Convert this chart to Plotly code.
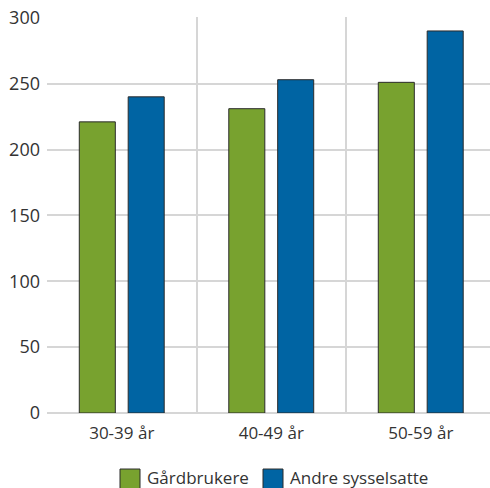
import plotly.graph_objects as go

categories = ["30-39 år", "40-49 år", "50-59 år"]
gardbrukere = [221, 231, 251]
andre_sysselsatte = [240, 253, 290]
series_names = ["Gårdbrukere", "Andre sysselsatte"]
y_ticks = [0, 50, 100, 150, 200, 250, 300]

GREEN = "#78a22f"
BLUE = "#0064a3"
GRID = "#d6d6d6"
TXT = "#333333"
FONT = "Open Sans"
OFF = 0  # page body margin (removed via post_script)
W, H = 490, 488
PXU = 395 / 300.0
YMAX = 300.6
ML, MR, MB = 47 - OFF, 0, H - (413 - OFF)
MT = (18 - OFF) - (YMAX - 300) * PXU
PW, PH = W - ML - MR, H - MT - MB
CAT_PX = 149.5
XMAX = -0.5 + PW / CAT_PX

xpos = list(range(len(categories)))

fig = go.Figure()
fig.add_trace(go.Bar(
    x=xpos, y=gardbrukere, name=series_names[0], width=0.241, offset=-0.284,
    marker=dict(color=GREEN, line=dict(color="#2b2b2b", width=1))))
fig.add_trace(go.Bar(
    x=xpos, y=andre_sysselsatte, name=series_names[1], width=0.241, offset=0.043,
    marker=dict(color=BLUE, line=dict(color="#2b2b2b", width=1))))

# manual legend (page pixel positions converted to paper coords)
def px_x(px):
    return (px - OFF - ML) / PW

def px_y(py):
    return (H - MB - (py - OFF)) / PH

legend_items = [(series_names[0], GREEN, 120), (series_names[1], BLUE, 263)]
for nm, col, x0 in legend_items:
    fig.add_shape(type="rect", xref="paper", yref="paper",
                  x0=px_x(x0), x1=px_x(x0 + 20), y0=px_y(490), y1=px_y(469),
                  fillcolor=col, line=dict(color="#2b2b2b", width=1))
    fig.add_annotation(xref="paper", yref="paper", x=px_x(x0 + 25), y=px_y(477),
                       text=nm, showarrow=False, xanchor="left", yanchor="middle",
                       font=dict(family=FONT, size=17, color=TXT))

fig.update_layout(
    width=W, height=H,
    margin=dict(l=ML, r=MR, t=MT, b=MB, pad=0),
    paper_bgcolor="white", plot_bgcolor="white",
    font=dict(family=FONT, size=17, color=TXT),
    barmode="overlay",
    showlegend=False,
)
fig.update_xaxes(
    range=[-0.5, XMAX], tickmode="array", tickvals=xpos, ticktext=categories,
    showgrid=False, zeroline=False, showline=False, ticks="", ticklen=0,
    tickfont=dict(size=17, color=TXT), automargin=False, ticklabelstandoff=8,
    ticklabeloverflow="allow",
    minor=dict(tickmode="array", tickvals=[-0.5, 0.5, 1.5], showgrid=True,
               gridcolor=GRID, gridwidth=2, ticks=""),
)
fig.update_yaxes(
    range=[0, YMAX], tickmode="array", tickvals=y_ticks,
    showgrid=True, gridcolor=GRID, gridwidth=2,
    zeroline=True, zerolinecolor=GRID, zerolinewidth=2,
    showline=False, ticks="", ticklabelstandoff=6, automargin=False,
    ticklabeloverflow="allow",
    tickfont=dict(size=18, color=TXT),
)

fig.write_html("out.html", config={"displayModeBar": False},
               post_script="document.body.style.margin='0px';")
